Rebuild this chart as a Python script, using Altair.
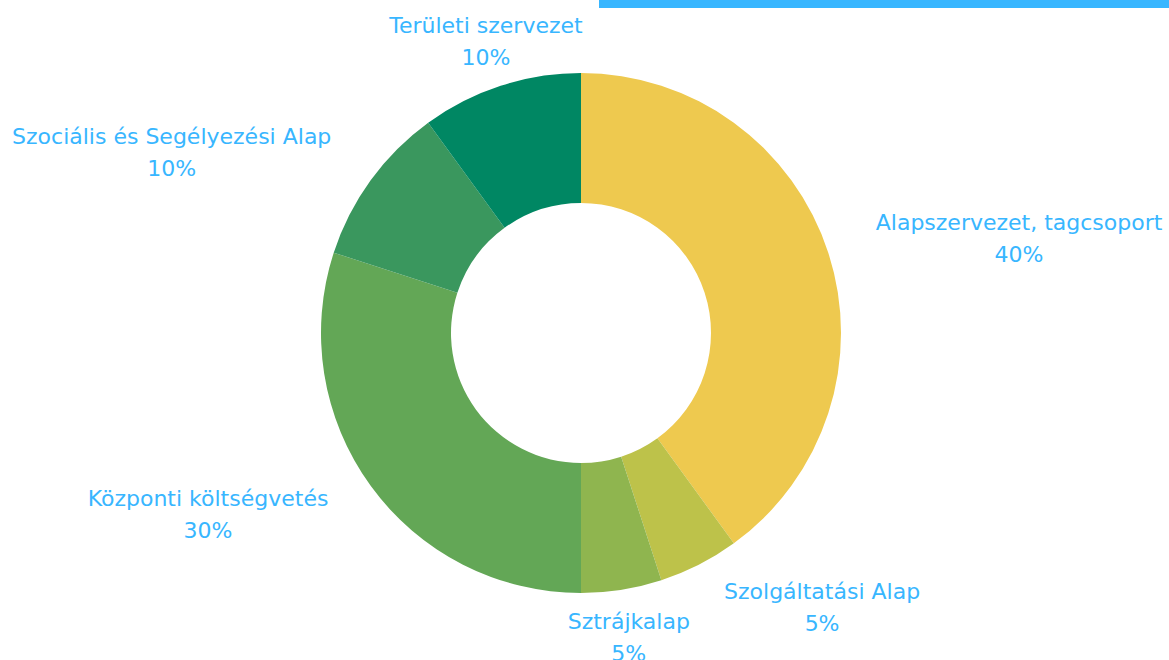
import altair as alt
import pandas as pd
import numpy as np

# Data
categories = ["Alapszervezet, tagcsoport", "Szolgáltatási Alap", "Sztrájkalap",
              "Központi költségvetés", "Szociális és Segélyezési Alap", "Területi szervezet"]
shares = [40, 5, 5, 30, 10, 10]
colors = ["#EEC94F", "#BDC24A", "#8FB54F", "#63A756", "#3A975E", "#008763"]

# Label layout (angle clockwise from 12 o'clock in degrees, distance from centre in px)
label_angle = [77.9, 138.8, 171.1, 244.0, 293.7, 341.9]
label_radius = [448, 366, 309, 415, 447, 306]

df = pd.DataFrame({
    "cat": categories,
    "share": shares,
    "order": list(range(len(categories))),
    "label": [f"{c}\n{s}%" for c, s in zip(categories, shares)],
    "ang": np.deg2rad(label_angle),
    "rad": label_radius,
})

CX, CY = 581, 333
BLUE = "#38B6FF"

arcs = alt.Chart(df).mark_arc(outerRadius=260, innerRadius=130, stroke=None).encode(
    theta=alt.Theta("share:Q", stack=True),
    order=alt.Order("order:Q"),
    color=alt.Color("cat:N", scale=alt.Scale(domain=categories, range=colors), legend=None),
    x=alt.value(CX), y=alt.value(CY),
)

labels = alt.Chart(df).mark_text(
    font="DejaVu Sans", fontSize=22, color=BLUE, lineBreak="\n", lineHeight=32,
    align="center", baseline="middle", dy=-16,
).encode(
    theta=alt.Theta("ang:Q", scale=None, stack=None),
    radius=alt.Radius("rad:Q", scale=None),
    text="label:N",
    x=alt.value(CX), y=alt.value(CY),
)

bar = alt.Chart(pd.DataFrame({"a": [1]})).mark_rect(color=BLUE).encode(
    x=alt.value(599), x2=alt.value(1169), y=alt.value(0), y2=alt.value(8),
)

chart = alt.layer(arcs, labels, bar).properties(
    width=1169, height=660, padding=0,
    autosize=alt.AutoSizeParams(type="fit", contains="padding"),
    background="white",
).configure_view(stroke=None)

chart.save("out.html", embed_options={"renderer": "svg", "actions": False})
